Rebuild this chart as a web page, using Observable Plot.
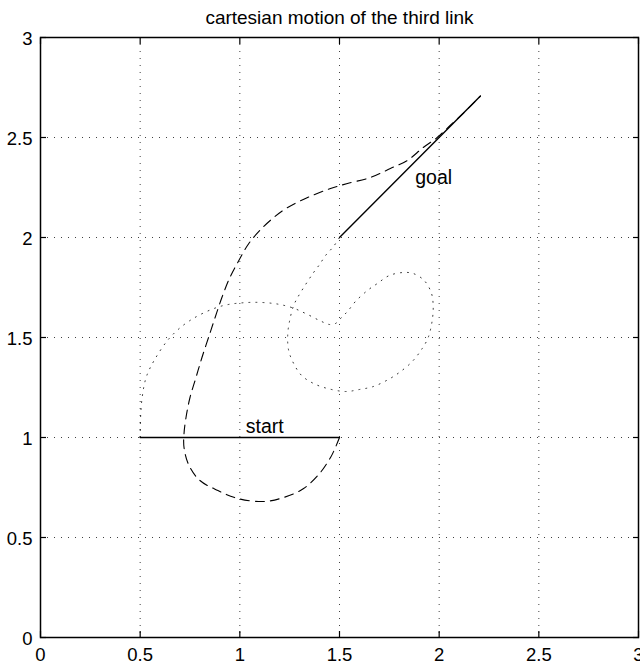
<!DOCTYPE html>
<html>
<head>
<meta charset="utf-8">
<script src="https://cdn.jsdelivr.net/npm/d3@7"></script>
<script src="https://cdn.jsdelivr.net/npm/@observablehq/plot@0.6"></script>
<style>
  html, body { margin: 0; padding: 0; background: white; overflow: hidden; }
</style>
</head>
<body>
<div id="chart"></div>
<script>
const titleText = "cartesian motion of the third link";
const xTicks = [0, 0.5, 1, 1.5, 2, 2.5, 3];
const yTicks = [0, 0.5, 1, 1.5, 2, 2.5, 3];

// trajectory of the link's base (dotted)
const baseX = [0.5, 0.502, 0.51, 0.53, 0.57, 0.65, 0.75, 0.9, 1.04, 1.17, 1.26, 1.33, 1.40, 1.45, 1.48, 1.51, 1.54, 1.58, 1.64, 1.69, 1.75, 1.82, 1.87, 1.925, 1.96, 1.97, 1.965, 1.945, 1.915, 1.865, 1.80, 1.745, 1.67, 1.60, 1.53, 1.44, 1.37, 1.31, 1.27, 1.245, 1.24, 1.25, 1.27, 1.29, 1.33, 1.37, 1.40, 1.43, 1.47, 1.5];
const baseY = [1.0, 1.1, 1.2, 1.3, 1.385, 1.5, 1.585, 1.655, 1.675, 1.67, 1.65, 1.62, 1.585, 1.565, 1.57, 1.60, 1.63, 1.68, 1.735, 1.77, 1.81, 1.825, 1.82, 1.785, 1.725, 1.66, 1.585, 1.5, 1.445, 1.38, 1.325, 1.29, 1.255, 1.24, 1.23, 1.245, 1.27, 1.31, 1.37, 1.435, 1.51, 1.585, 1.66, 1.70, 1.765, 1.825, 1.865, 1.91, 1.955, 2.0];

// trajectory of the link's tip (dashed)
const tipX = [1.5, 1.475, 1.455, 1.40, 1.32, 1.22, 1.12, 0.99, 0.89, 0.80, 0.745, 0.72, 0.72, 0.73, 0.75, 0.78, 0.81, 0.843, 0.876, 0.91, 0.95, 0.995, 1.045, 1.10, 1.17, 1.24, 1.34, 1.455, 1.54, 1.655, 1.755, 1.84, 1.92, 1.99, 2.055, 2.12, 2.207];
const tipY = [1.0, 0.94, 0.9, 0.82, 0.745, 0.70, 0.68, 0.695, 0.735, 0.785, 0.86, 0.95, 1.02, 1.10, 1.2, 1.3, 1.4, 1.5, 1.6, 1.7, 1.8, 1.885, 1.97, 2.035, 2.10, 2.15, 2.20, 2.245, 2.27, 2.30, 2.345, 2.385, 2.45, 2.50, 2.56, 2.62, 2.707];

// link positions
const startLinkX = [0.5, 1.5];
const startLinkY = [1.0, 1.0];
const goalLinkX = [1.5, 2.207];
const goalLinkY = [2.0, 2.707];

// annotations
const labelText = ["start", "goal"];
const labelX = [1.03, 1.88];
const labelY = [1.055, 2.30];

const zip = (xs, ys) => xs.map((x, i) => ({x, y: ys[i]}));
const base = zip(baseX, baseY);
const tip = zip(tipX, tipY);
const startLink = zip(startLinkX, startLinkY);
const goalLink = zip(goalLinkX, goalLinkY);
const labels = labelText.map((t, i) => ({t, x: labelX[i], y: labelY[i]}));

const chart = Plot.plot({
  width: 640,
  height: 666,
  marginLeft: 40,
  marginRight: 2,
  marginTop: 37,
  marginBottom: 29,
  style: {fontFamily: "'Liberation Sans', Arial, Helvetica, sans-serif", fontSize: "19px", color: "black", background: "white", overflow: "visible"},
  x: {domain: [0, 3], axis: null},
  y: {domain: [0, 3], axis: null},
  marks: [
    Plot.gridX(xTicks, {stroke: "black", strokeOpacity: 0.75, strokeDasharray: "1,6"}),
    Plot.gridY(yTicks, {stroke: "black", strokeOpacity: 0.75, strokeDasharray: "1,6"}),
    Plot.line(base, {x: "x", y: "y", stroke: "black", strokeOpacity: 0.8, strokeWidth: 1, strokeDasharray: "1,6", curve: "catmull-rom"}),
    Plot.line(tip, {x: "x", y: "y", stroke: "black", strokeWidth: 1.1, strokeDasharray: "9,6", curve: "catmull-rom"}),
    Plot.line(startLink, {x: "x", y: "y", stroke: "black", strokeWidth: 1.4}),
    Plot.line(goalLink, {x: "x", y: "y", stroke: "black", strokeWidth: 1.4}),
    Plot.text(labels, {x: "x", y: "y", text: "t", textAnchor: "start", lineAnchor: "middle", fontSize: 19.5, fill: "black"}),
    Plot.frame({stroke: "black", strokeWidth: 1.5}),
    Plot.axisX(xTicks, {anchor: "bottom", label: null, tickSize: 0, tickPadding: 10, fontSize: 18.5, tickFormat: d => String(d)}),
    Plot.axisX(xTicks, {anchor: "bottom", label: null, tickSize: -6, tickFormat: () => "", strokeWidth: 1.2}),
    Plot.axisX(xTicks, {anchor: "top", label: null, tickSize: -6, tickFormat: () => "", strokeWidth: 1.2}),
    Plot.axisY(yTicks, {anchor: "left", label: null, tickSize: 0, tickPadding: 8, dy: 2, fontSize: 18.5, tickFormat: d => String(d)}),
    Plot.axisY(yTicks, {anchor: "left", label: null, tickSize: -6, tickFormat: () => "", strokeWidth: 1.2}),
    Plot.axisY(yTicks, {anchor: "right", label: null, tickSize: -6, tickFormat: () => "", strokeWidth: 1.2}),
    Plot.text([titleText], {frameAnchor: "top", text: d => d, lineAnchor: "middle", dy: -20, fontSize: 19, fill: "black"})
  ]
});
document.getElementById("chart").appendChild(chart);
</script>
</body>
</html>
